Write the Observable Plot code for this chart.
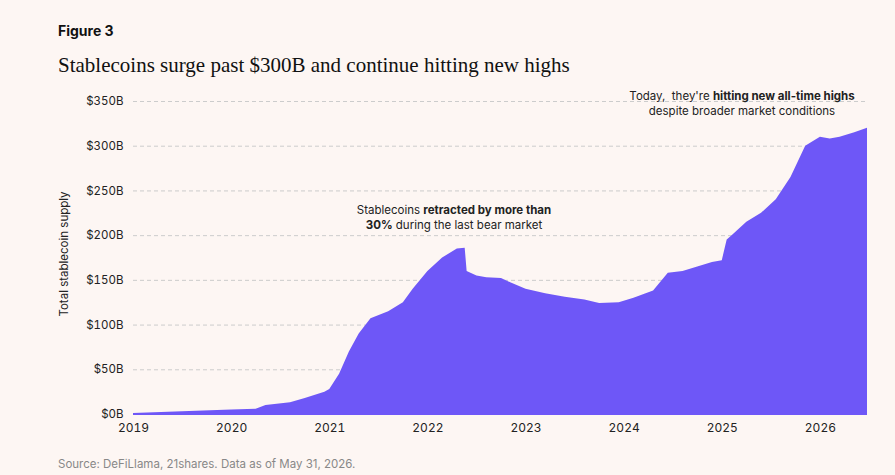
<!DOCTYPE html>
<html><head><meta charset="utf-8">
<script src="https://cdn.jsdelivr.net/npm/d3@7"></script>
<script src="https://cdn.jsdelivr.net/npm/@observablehq/plot@0.6"></script>
<style>
body{margin:0;background:#fdf6f3;font-family:Inter,"Open Sans",sans-serif;}
#wrap{position:relative;width:895px;height:475px;}
.fig{position:absolute;left:58px;top:22px;font-weight:700;font-size:14px;color:#111;}
.title{position:absolute;left:58px;top:53px;font-family:"Liberation Serif",serif;font-size:21px;color:#111;}
.cap{position:absolute;left:58px;top:457px;font-size:11.5px;color:#888;}
#chart{position:absolute;left:0;top:86px;}
</style></head><body>
<div id="wrap">
<div class="fig">Figure 3</div>
<div class="title">Stablecoins surge past $300B and continue hitting new highs</div>
<div id="chart"></div>
<div class="cap">Source: DeFiLlama, 21shares. Data as of May 31, 2026.</div>
</div>
<script>
const years = [2019.0,2019.5,2020.0,2020.25,2020.35,2020.6,2020.75,2020.95,2021.0,2021.1,2021.2,2021.3,2021.42,2021.6,2021.75,2021.85,2022.0,2022.15,2022.3,2022.38,2022.4,2022.5,2022.6,2022.75,2022.85,2023.0,2023.2,2023.4,2023.6,2023.75,2023.95,2024.1,2024.3,2024.45,2024.6,2024.75,2024.9,2025.0,2025.05,2025.1,2025.25,2025.4,2025.55,2025.7,2025.85,2026.0,2026.1,2026.2,2026.35,2026.48];
const supply = [1,3,5,6,10,13,18,25,28,45,70,90,107,115,125,140,160,175,185,186,160,155,153,152,147,140,135,131,128,124,125,130,138,158,160,165,170,172,195,200,215,225,240,265,300,310,308,310,315,320];
const yTicks = [0,50,100,150,200,250,300,350];
const xTicks = [2019,2020,2021,2022,2023,2024,2025,2026];
const data = years.map((t,i)=>({t, v:supply[i]}));
const plot = Plot.plot({
  width:895, height:350,
  marginLeft:133, marginRight:28, marginTop:15, marginBottom:22,
  style:{background:"transparent",fontFamily:"Inter,sans-serif",fontSize:"11.5px",color:"#222"},
  x:{domain:[2019,2026.48],label:null},
  y:{domain:[0,350],label:null},
  marks:[
    Plot.gridY(yTicks,{stroke:"#ccc",strokeOpacity:1,strokeDasharray:"4,3"}),
    Plot.areaY(data,{x:"t",y:"v",fill:"#6e57f7",curve:"linear"}),
    Plot.ruleY([0],{stroke:"#6e57f7"}),
    Plot.axisX({ticks:xTicks,tickFormat:d=>String(d),tickSize:0,label:null,fontSize:12}),
    Plot.axisY({ticks:yTicks,tickFormat:d=>"$"+d+"B",tickSize:0,label:null,tickPadding:10})
  ]
});
document.getElementById("chart").appendChild(plot);
const svg=d3.select(plot);
svg.append("text").attr("transform","translate(68,168) rotate(-90)").attr("text-anchor","middle")
  .attr("font-size",11.5).attr("fill","#222").text("Total stablecoin supply");
function ann(x,y,lines){
  const t=svg.append("text").attr("x",x).attr("y",y).attr("text-anchor","middle").attr("font-size",11.5).attr("fill","#222");
  lines.forEach((ln,i)=>{const ts=t.append("tspan").attr("x",x).attr("dy",i?15:0);
    ln.forEach(([s,b])=>ts.append("tspan").attr("font-weight",b?700:400).text(s));});
}
ann(454,128,[[["Stablecoins ",0],["retracted by more than",1]],[["30%",1],[" during the last bear market",0]]]);
ann(742,14,[[["Today,  they're ",0],["hitting new all-time highs",1]],[["despite broader market conditions",0]]]);
</script></body></html>
